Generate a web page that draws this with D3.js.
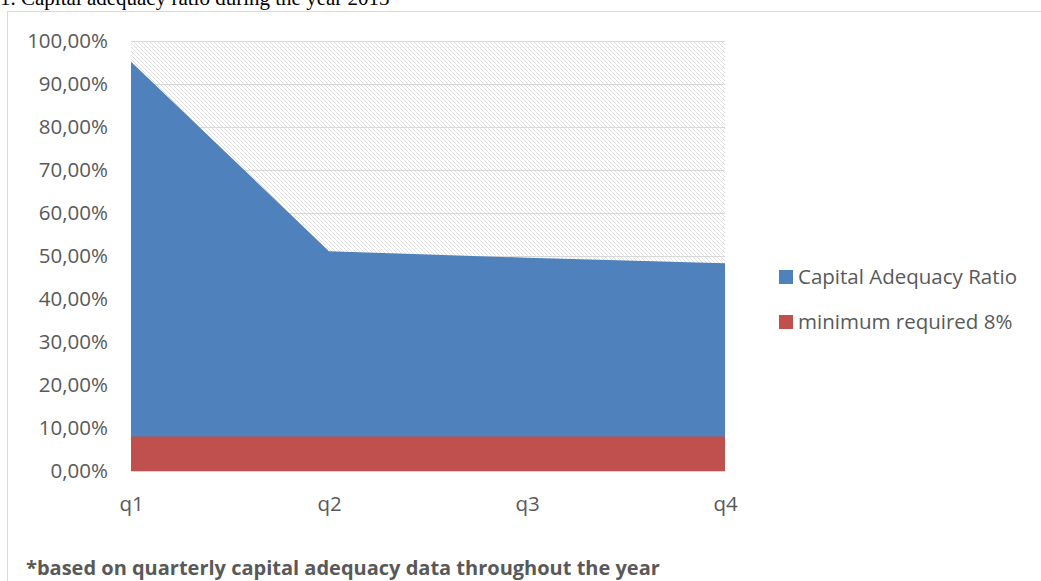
<!DOCTYPE html>
<html><head><meta charset="utf-8">
<script src="https://cdn.jsdelivr.net/npm/d3@7"></script>
<style>body{margin:0;background:#fff;}svg{display:block;}</style>
</head><body>
<svg id="c" width="1041" height="581"></svg>
<script>
const quarters = ["q1","q2","q3","q4"];
const capitalRatio = [95.2, 51.1, 49.6, 48.3];
const minimumRequired = [8, 8, 8, 8];
const yTicks = [0,10,20,30,40,50,60,70,80,90,100];
const seriesNames = ["Capital Adequacy Ratio","minimum required 8%"];
const seriesColors = ["#4F81BD","#C0504D"];
const titleText = "1. Capital adequacy ratio during the year 2013";
const footnote = "*based on quarterly capital adequacy data throughout the year";

const svg = d3.select("#c");
const L=131, R=725, T=41, B=471;
const x = d3.scalePoint().domain(quarters).range([L,R]);
const y = d3.scaleLinear().domain([0,100]).range([B,T]);
const font = "'Open Sans', 'Liberation Sans', sans-serif";

// hatch pattern
const defs = svg.append("defs");
const pat = defs.append("pattern").attr("id","hatch").attr("patternUnits","userSpaceOnUse")
  .attr("width",4).attr("height",4);
pat.append("rect").attr("width",4).attr("height",4).attr("fill","#fff");
pat.append("path").attr("d","M-1,-1 L5,5 M-1,3 L1,5 M3,-1 L5,1").attr("stroke","#e0e0e0").attr("stroke-width",1);

// title (partially cut, as in the source)
svg.append("text").attr("x",0).attr("y",5).attr("font-family","'Liberation Serif', serif")
  .attr("font-size",21).attr("fill","#000").text(titleText);

// frame
svg.append("rect").attr("x",7.5).attr("y",11.5).attr("width",1100).attr("height",700)
  .attr("fill","none").attr("stroke","#d9d9d9").attr("stroke-width",1);

// plot background
svg.append("rect").attr("x",L).attr("y",T).attr("width",R-L).attr("height",B-T).attr("fill","url(#hatch)");

// gridlines
svg.append("g").selectAll("line").data(yTicks.filter(d=>d>0)).join("line")
  .attr("x1",L).attr("x2",R).attr("y1",d=>Math.round(y(d))+0.5).attr("y2",d=>Math.round(y(d))+0.5)
  .attr("stroke","#d9d9d9").attr("stroke-width",1);

// areas
const area = d3.area().x((d,i)=>x(quarters[i])).y0(y(0)).y1(d=>y(d));
svg.append("path").datum(capitalRatio).attr("d",area).attr("fill",seriesColors[0]);
svg.append("path").datum(minimumRequired).attr("d",area).attr("fill",seriesColors[1]);

// x axis line
svg.append("line").attr("x1",L).attr("x2",R).attr("y1",B+0.5).attr("y2",B+0.5).attr("stroke","#d9d9d9");

// y axis labels
const yAxis = d3.axisLeft(y).tickValues(yTicks).tickSize(0).tickPadding(0)
  .tickFormat(d=>d3.format(".2f")(d).replace(".",",")+"%");
const gy = svg.append("g").attr("transform",`translate(108,0)`).call(yAxis);
gy.select(".domain").remove();
gy.selectAll("text").attr("font-family",font).attr("font-size",20.5).attr("fill","#595959");

// x axis labels
const xAxis = d3.axisBottom(x).tickSize(0).tickPadding(0);
const gx = svg.append("g").attr("transform",`translate(0,${B+25})`).call(xAxis);
gx.select(".domain").remove();
gx.selectAll("text").attr("font-family",font).attr("font-size",20.5).attr("fill","#595959");

// legend
const lg = svg.append("g");
seriesNames.forEach((n,i)=>{
  const cy = 277 + i*45;
  lg.append("rect").attr("x",779).attr("y",cy-7).attr("width",14).attr("height",14).attr("fill",seriesColors[i]);
  lg.append("text").attr("x",798).attr("y",cy).attr("dy","0.35em").attr("font-family",font)
    .attr("font-size",20.5).attr("fill","#595959").text(n);
});

// footnote
svg.append("text").attr("x",26).attr("y",575).attr("font-family",font).attr("font-weight","bold")
  .attr("font-size",20).attr("fill","#595959").text(footnote);
</script>
</body></html>
